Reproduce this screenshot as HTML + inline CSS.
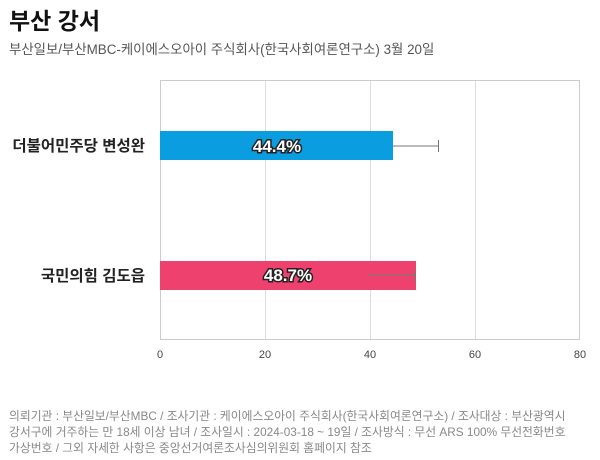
<!DOCTYPE html><html><head><meta charset="utf-8"><style>
body{margin:0;width:600px;height:460px;background:#fff;font-family:"Liberation Sans","Noto Sans CJK KR",sans-serif;position:relative;overflow:hidden}
.t{position:absolute;white-space:nowrap}
</style></head><body>
<div class="t" style="left:9px;top:2px;font-size:23px;font-weight:bold;color:#111">부산 강서</div>
<div class="t" style="left:9px;top:38px;font-size:13.4px;color:#555">부산일보/부산MBC-케이에스오아이 주식회사(한국사회여론연구소) 3월 20일</div>
<svg style="position:absolute;left:0;top:0" width="600" height="460">
<g stroke="#ddd" stroke-width="1">
<line x1="265.5" y1="80" x2="265.5" y2="340"/><line x1="370.5" y1="80" x2="370.5" y2="340"/><line x1="475.5" y1="80" x2="475.5" y2="340"/>
</g>
<rect x="160.5" y="80.5" width="419" height="259" fill="none" stroke="#ccc"/>
<rect x="160" y="131" width="233" height="29" fill="#0a9de0"/>
<rect x="160" y="261" width="256" height="29" fill="#ef416d"/>
<g stroke="#777" stroke-width="1">
<line x1="393" y1="146" x2="438" y2="146"/><line x1="438.5" y1="140" x2="438.5" y2="152"/>
<line x1="368" y1="275" x2="415" y2="275"/><line x1="415.5" y1="270" x2="415.5" y2="281"/>
</g>
<g font-family="Liberation Sans, sans-serif" font-weight="bold" font-size="17" text-anchor="middle" fill="#fff" stroke="#222" stroke-width="3" paint-order="stroke">
<text x="277" y="152">44.4%</text><text x="288" y="281">48.7%</text>
</g>
<g font-size="11" fill="#444" text-anchor="middle" font-family="Liberation Sans, sans-serif">
<text x="160" y="358">0</text><text x="265" y="358">20</text><text x="370" y="358">40</text><text x="475" y="358">60</text><text x="580" y="358">80</text>
</g>
</svg>
<div class="t" style="right:455px;top:134px;font-size:15.5px;font-weight:bold;color:#222">더불어민주당 변성완</div>
<div class="t" style="right:455px;top:264px;font-size:15.5px;font-weight:bold;color:#222">국민의힘 김도읍</div>
<div class="t" style="left:9px;top:408px;font-size:11.8px;line-height:16px;color:#888">의뢰기관 : 부산일보/부산MBC / 조사기관 : 케이에스오아이 주식회사(한국사회여론연구소) / 조사대상 : 부산광역시<br>강서구에 거주하는 만 18세 이상 남녀 / 조사일시 : 2024-03-18 ~ 19일 / 조사방식 : 무선 ARS 100% 무선전화번호<br>가상번호 / 그외 자세한 사항은 중앙선거여론조사심의위원회 홈페이지 참조</div>
</body></html>
